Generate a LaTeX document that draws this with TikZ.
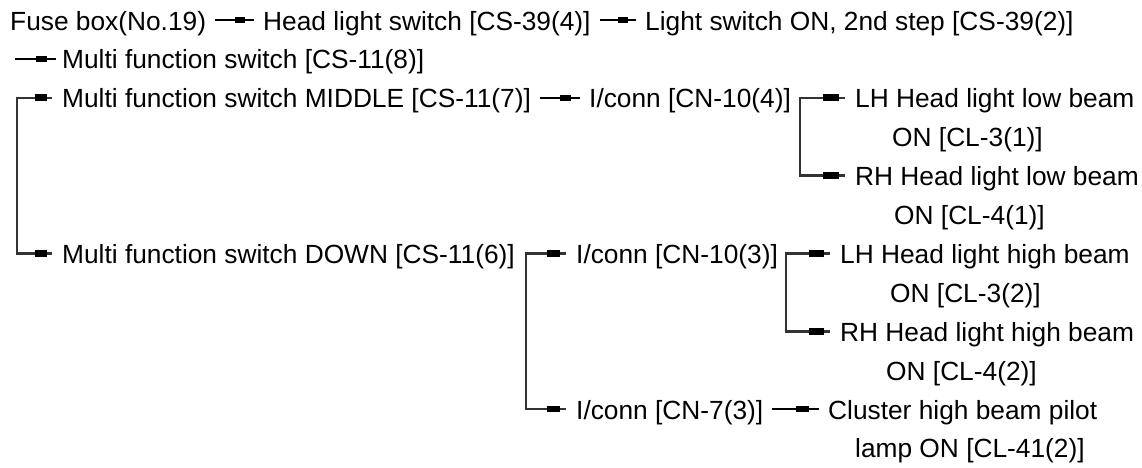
\documentclass[tikz,border=0pt]{standalone}
\usepackage{fontspec}
\setmainfont{Liberation Sans}
\usetikzlibrary{calc}
\definecolor{brk}{HTML}{333333}
\tikzset{
  txt/.style={anchor=base west, inner sep=0pt, text height=24pt, text depth=4pt,
    font=\fontsize{26.3}{30}\selectfont},
  cline/.style={line width=2pt, black},
  bline/.style={line width=2.6pt, brk, line join=miter},
}
% straight connector between two named points
\newcommand\myconn[2]{%
  \draw[cline] ($(#1)+(9,0)$) coordinate (cA) -- ($(#2)+(-9,0)$) coordinate (cB);
  \fill[black] ($(cA)!0.5!(cB)+(0,-3.2)$) rectangle ($(cA)!0.78!(cB)+(0,3.2)$);}
% bracket: vertical coordinate, top node, bottom node
\newcommand\mybrk[3]{%
  \draw[bline] ($(#2.west)+(-10,0)$) coordinate (tA) -- (#1 |- #2.west) coordinate (tB)
     -- (#1 |- #3.west) coordinate (bB) -- ($(#3.west)+(-10,0)$) coordinate (bA);
  \fill[black] ($(tB)!0.52!(tA)+(0,-3.4)$) rectangle ($(tB)!0.86!(tA)+(0,3.4)$);
  \fill[black] ($(bB)!0.52!(bA)+(0,-3.4)$) rectangle ($(bB)!0.86!(bA)+(0,3.4)$);}
\begin{document}
\begin{tikzpicture}[x=1pt,y=-1pt]
\useasboundingbox[fill=white] (0,0) rectangle (1142,467);
% row texts
\node[txt] (fuse)  at (10,30)    {Fuse box(No.19)};
\node[txt] (hls)   at (263,30)   {Head light switch [CS-39(4)]};
\node[txt] (lso)   at (645,30)   {Light switch ON, 2nd step [CS-39(2)]};
\node[txt] (mfs)   at (62,68.9)  {Multi function switch [CS-11(8)]};
\node[txt] (mid)   at (62,107.8) {Multi function switch MIDDLE [CS-11(7)]};
\node[txt] (cnA)   at (589,107.8){I/conn [CN-10(4)]};
\node[txt] (lhlo)  at (855,107.8){LH Head light low beam};
\node[txt] (lhloB) at (892,146.7){ON [CL-3(1)]};
\node[txt] (rhlo)  at (855,185.6){RH Head light low beam};
\node[txt] (rhloB) at (894,224.5){ON [CL-4(1)]};
\node[txt] (down)  at (62,263.4) {Multi function switch DOWN [CS-11(6)]};
\node[txt] (cnB)   at (576,263.4){I/conn [CN-10(3)]};
\node[txt] (lhhi)  at (840,263.4){LH Head light high beam};
\node[txt] (lhhiB) at (890,302.3){ON [CL-3(2)]};
\node[txt] (rhhi)  at (840,341.2){RH Head light high beam};
\node[txt] (rhhiB) at (886,380.1){ON [CL-4(2)]};
\node[txt] (cnC)   at (576,419)  {I/conn [CN-7(3)]};
\node[txt] (clu)   at (828,419)  {Cluster high beam pilot};
\node[txt] (cluB)  at (855,457.9){lamp ON [CL-41(2)]};
% straight connectors
\myconn{fuse.east}{hls.west}
\myconn{hls.east}{lso.west}
\myconn{mid.east}{cnA.west}
\myconn{cnC.east}{clu.west}
\coordinate (r2s) at (15,58.9);
\draw[cline] (r2s) -- ($(mfs.west)+(-6,0)$) coordinate (r2e);
\fill[black] ($(r2s)!0.5!(r2e)+(0,-3.2)$) rectangle ($(r2s)!0.78!(r2e)+(0,3.2)$);
% brackets
\coordinate (v1) at (17,0);
\coordinate (v2) at (800,0);
\coordinate (v3) at (526,0);
\coordinate (v4) at (786,0);
\mybrk{v1}{mid}{down}
\mybrk{v2}{lhlo}{rhlo}
\mybrk{v3}{cnB}{cnC}
\mybrk{v4}{lhhi}{rhhi}
\end{tikzpicture}
\end{document}
